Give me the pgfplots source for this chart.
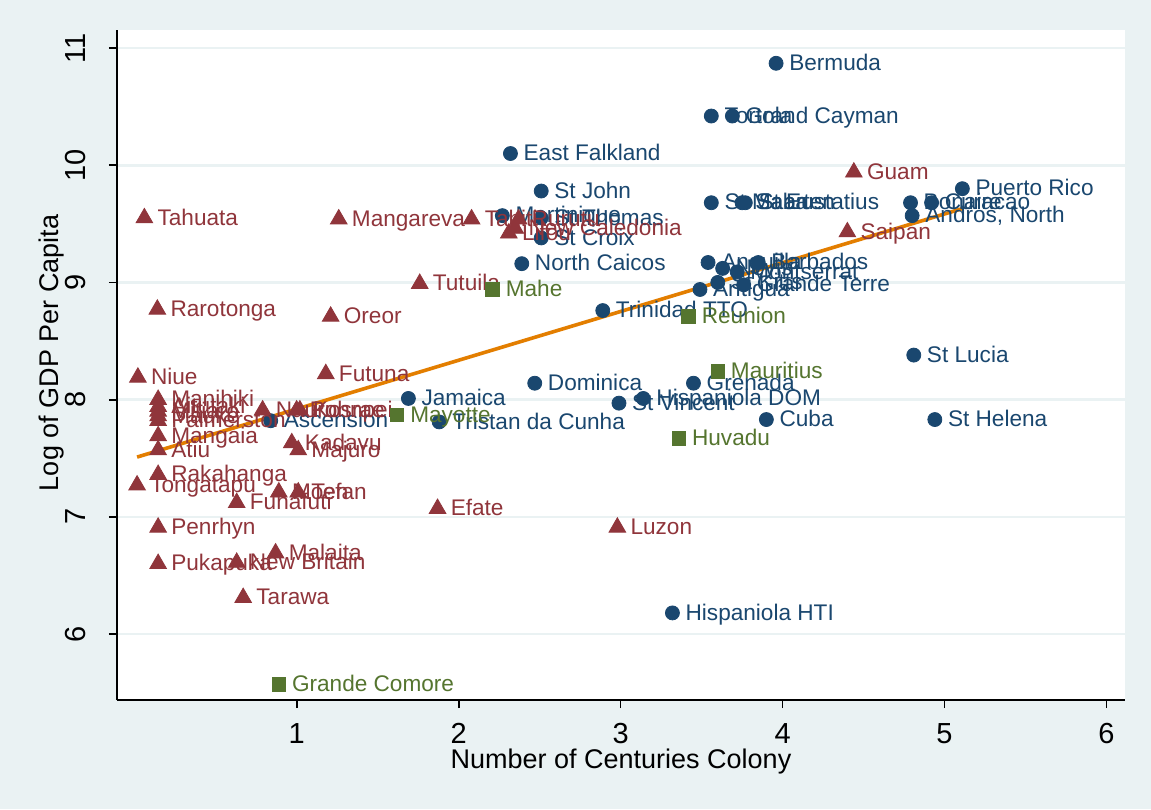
\documentclass[border=0pt]{standalone}
\usepackage{pgfplots}
\usepackage{pgfplotstable}
\pgfplotsset{compat=1.18}
\usepackage{fontspec}
\setmainfont{Liberation Sans}
\definecolor{stnavy}{RGB}{26,71,111}
\definecolor{stmaroon}{RGB}{144,53,59}
\definecolor{stgreen}{RGB}{85,117,47}
\definecolor{storange}{RGB}{227,126,0}
\definecolor{stbg}{RGB}{234,242,243}
\newcommand\labfont{\fontsize{11.3}{13}\selectfont}

\pgfplotstableread[col sep=semicolon]{
x;y;label
3.96;10.87;Bermuda
3.56;10.42;Tortola
3.69;10.42;Grand Cayman
2.32;10.10;East Falkland
2.51;9.78;St John
3.56;9.68;St Maarten
3.75;9.68;Saba
3.77;9.68;St Eustatius
5.11;9.80;Puerto Rico
4.79;9.68;Bonaire
4.92;9.68;Curacao
4.80;9.57;Andros, North
2.27;9.57;Martinique
2.51;9.55;St Thomas
2.51;9.38;St Croix
2.39;9.16;North Caicos
3.54;9.17;Anguilla
3.85;9.17;Barbados
3.72;9.09;Montserrat
3.63;9.12;Nevis
3.60;9.00;St Kitts
3.76;8.98;Grande Terre
3.49;8.94;Antigua
2.89;8.76;Trinidad TTO
4.81;8.38;St Lucia
2.47;8.14;Dominica
3.45;8.14;Grenada
1.69;8.01;Jamaica
3.14;8.01;Hispaniola DOM
2.99;7.97;St Vincent
0.84;7.82;Ascension
1.88;7.81;Tristan da Cunha
3.90;7.83;Cuba
4.94;7.83;St Helena
3.32;6.18;Hispaniola HTI
}\navytab

\pgfplotstableread[col sep=semicolon]{
x;y;label
4.44;9.94;Guam
4.40;9.43;Saipan
0.06;9.55;Tahuata
1.26;9.54;Mangareva
2.08;9.54;Tahiti
2.37;9.54;Rurutu
2.31;9.42;Lifou
2.35;9.46;New Caledonia
1.76;8.99;Tutuila
0.14;8.77;Rarotonga
1.21;8.71;Oreor
0.02;8.19;Niue
1.18;8.22;Futuna
0.145;8.00;Manihiki
0.145;7.94;Aitutaki
0.145;7.90;Mitiaro
0.145;7.86;Mauke
0.145;7.82;Palmerston
0.145;7.69;Mangaia
0.145;7.57;Atiu
0.145;7.36;Rakahanga
0.015;7.27;Tongatapu
0.145;6.91;Penrhyn
0.145;6.60;Pukapuka
0.79;7.91;Nauru
1.00;7.91;Pohnpei
1.02;7.91;Kosrae
0.97;7.63;Kadavu
1.01;7.57;Majuro
0.63;7.12;Funafuti
0.89;7.21;Moen
1.01;7.21;Tefan
1.87;7.07;Efate
2.98;6.91;Luzon
0.87;6.69;Malaita
0.63;6.61;New Britain
0.67;6.31;Tarawa
}\maroontab

\pgfplotstableread[col sep=semicolon]{
x;y;label
2.21;8.94;Mahe
3.42;8.71;Reunion
3.60;8.24;Mauritius
1.62;7.87;Mayotte
3.36;7.67;Huvadu
0.89;5.57;Grande Comore
}\greentab

\begin{document}
\begin{tikzpicture}
\fill[stbg] (-58.5pt,-54.5pt) rectangle (517pt,350pt);
\begin{axis}[
  at={(0,0)}, anchor=south west,
  scale only axis, width=504pt, height=335pt,
  xmin=-0.109, xmax=6.114, ymin=5.437, ymax=11.154,
  axis background/.style={fill=white},
  axis lines*=left, axis line style={black, line width=0.9pt, -},
  xtick={1,...,6}, ytick={6,...,11},
  tick align=outside, major tick length=4pt,
  tick style={black, line width=0.9pt},
  ymajorgrids, major grid style={stbg, line width=1.3pt},
  /pgf/number format/assume math mode=true,
  ticklabel style={font=\fontsize{14.5}{16}\selectfont},
  yticklabel style={rotate=90, anchor=south},
  xticklabel shift=4pt,
  yticklabel shift=8pt,
  xlabel={Number of Centuries Colony},
  ylabel={Log of GDP Per Capita},
  label style={font=\fontsize{13.5}{16}\selectfont},
  xlabel style={at={(axis description cs:0.5,-0.0925)}, anchor=center},
  ylabel style={at={(axis description cs:-0.0645,0.518)}, anchor=center},
  clip=false,
  point meta=explicit symbolic,
  nodes near coords,
  every node near coord/.append style={anchor=west, inner sep=0pt, xshift=6.4pt,
     font=\labfont, text height=0.72em, text depth=0pt},
]
\addplot[only marks, mark=*, mark size=3.5pt, color=stnavy,
  every node near coord/.append style={text=stnavy}]
  table[x=x, y=y, meta=label]{\navytab};
\addplot[only marks, mark=triangle*, mark size=4.8pt, color=stmaroon,
  every node near coord/.append style={text=stmaroon}]
  table[x=x, y=y, meta=label]{\maroontab};
\addplot[only marks, mark=square*, mark size=3.4pt, color=stgreen,
  every node near coord/.append style={text=stgreen}]
  table[x=x, y=y, meta=label]{\greentab};
\addplot[storange, line width=1.8pt, mark=none, nodes near coords={}]
  coordinates {(0.015,7.51) (5.11,9.63)};
\end{axis}
\end{tikzpicture}
\end{document}
